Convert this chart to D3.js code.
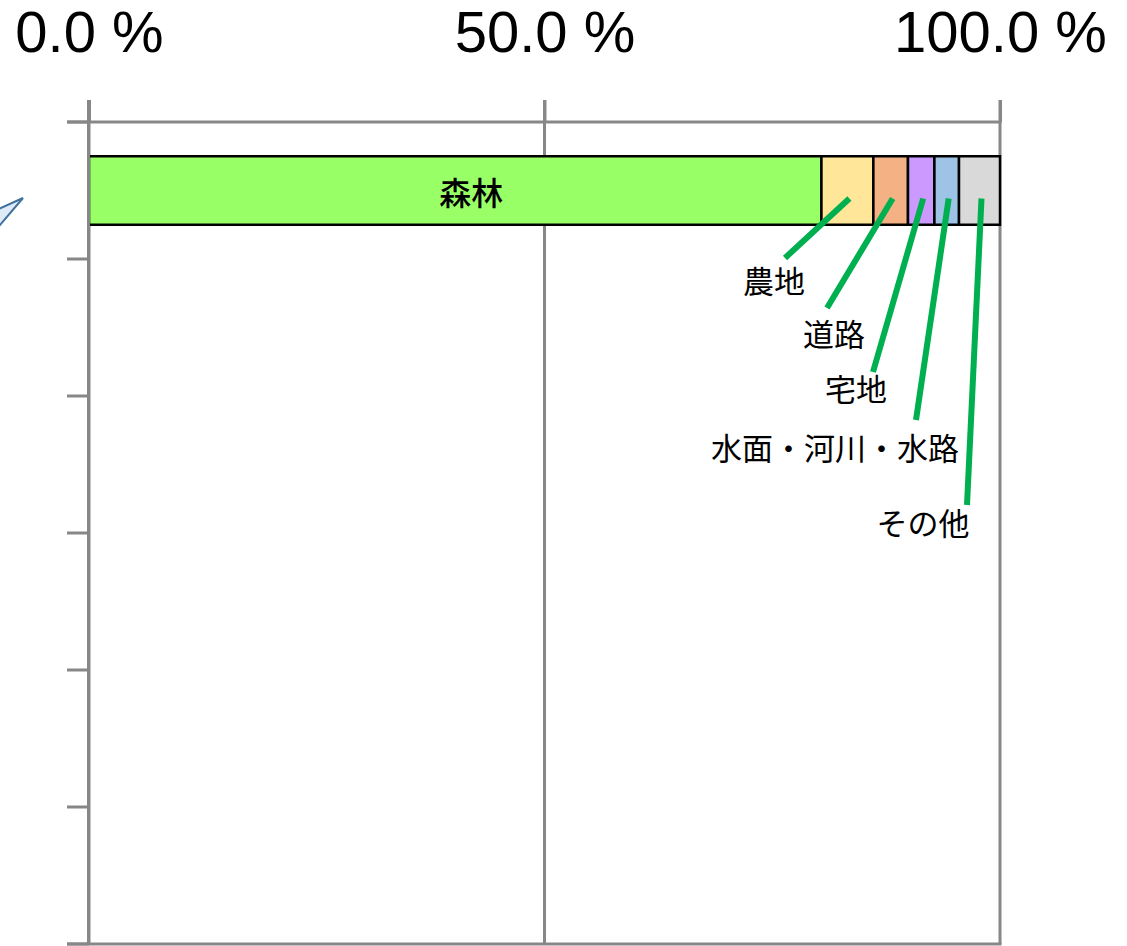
<!DOCTYPE html>
<html>
<head>
<meta charset="utf-8">
<script src="https://cdn.jsdelivr.net/npm/d3@7"></script>
<style>
  body { margin: 0; background: #fff; }
  svg { display: block; }
</style>
</head>
<body>
<div id="chart"></div>
<script>
// land use shares (percent)
const categories = ["森林", "農地", "道路", "宅地", "水面・河川・水路", "その他"];
const shares = [80.4, 5.7, 3.8, 2.9, 2.7, 4.5];
const colors = ["#99FF66", "#FFE699", "#F4B183", "#CC99FF", "#9DC3E6", "#D9D9D9"];
const xTicks = [0, 50, 100];
const rows = ["r1", "r2", "r3", "r4", "r5", "r6"];

// label placement for the small segments (layout only)
const labelSpots = [null,
  {lx: 774, ly: 279, ex: 785, ey: 258},
  {lx: 834, ly: 332, ex: 827, ey: 308},
  {lx: 856, ly: 387, ex: 873, ey: 372},
  {lx: 835, ly: 446, ex: 916, ey: 420},
  {lx: 923, ly: 521, ex: 967, ey: 505}];

const W = 1127, H = 946;
const plotLeft = 89, plotRight = 1000, plotTop = 122, plotBottom = 944;
const gray = "#878787";

const svg = d3.select("#chart").append("svg")
    .attr("width", W)
    .attr("height", H);

let x = d3.scaleLinear().domain([0, 100]).range([plotLeft, plotRight]);
let y = d3.scaleBand().domain(rows).range([plotTop, plotBottom]).padding(0);

// stacked data
let acc = 0;
const segs = categories.map(function(c, i) {
    let s = {name: c, x0: acc, x1: acc + shares[i], color: colors[i]};
    acc += shares[i];
    return s;
});

// callout tail sticking in from the left edge
svg.append("path")
    .attr("d", "M-6,232 L23,198 L-6,211 Z")
    .attr("fill", "#DEEBF7")
    .attr("stroke", "#41719C")
    .attr("stroke-width", 2);

// vertical grid lines
svg.append("g").selectAll("line")
    .data(xTicks)
    .enter().append("line")
    .attr("x1", d => x(d)).attr("x2", d => x(d))
    .attr("y1", 100).attr("y2", plotBottom)
    .attr("stroke", gray)
    .attr("stroke-width", 3);

// top axis with labels
let xAxis = svg.append("g")
    .attr("transform", `translate(0, ${plotTop})`)
    .call(d3.axisTop(x).tickValues(xTicks).tickSize(22).tickPadding(48)
        .tickFormat(d => d3.format(".1f")(d) + " %"));
xAxis.select(".domain").remove();
xAxis.selectAll(".tick line").attr("stroke", gray).attr("stroke-width", 3);
xAxis.selectAll("text")
    .attr("fill", "#000")
    .style("font-family", "'Liberation Sans', Arial, sans-serif")
    .style("font-size", "58px");

// top and bottom frame lines
[plotTop, plotBottom].forEach(function(yy) {
    svg.append("line")
        .attr("x1", 67).attr("x2", plotRight + 1.5)
        .attr("y1", yy).attr("y2", yy)
        .attr("stroke", gray).attr("stroke-width", 3);
});

// left category ticks at band edges
let edges = rows.map(r => y(r)).concat([plotBottom]);
svg.append("g").selectAll("line")
    .data(edges)
    .enter().append("line")
    .attr("x1", 67).attr("x2", plotLeft)
    .attr("y1", d => d).attr("y2", d => d)
    .attr("stroke", gray)
    .attr("stroke-width", 3);

// the bar
let bh = y.bandwidth() * 0.5;
let by = y(rows[0]) + y.bandwidth() * 0.25;
svg.append("g").selectAll("rect")
    .data(segs)
    .enter().append("rect")
    .attr("x", d => x(d.x0))
    .attr("y", by)
    .attr("width", d => x(d.x1) - x(d.x0))
    .attr("height", bh)
    .attr("fill", d => d.color)
    .attr("stroke", "#000")
    .attr("stroke-width", 2.5);

// left axis line on top
svg.append("line")
    .attr("x1", plotLeft - 0.5).attr("x2", plotLeft - 0.5)
    .attr("y1", 100).attr("y2", plotBottom)
    .attr("stroke", gray).attr("stroke-width", 3);

// label inside the big segment
svg.append("text")
    .attr("x", (x(segs[0].x0) + x(segs[0].x1)) / 2 + 16)
    .attr("y", by + bh / 2)
    .attr("text-anchor", "middle")
    .attr("dominant-baseline", "central")
    .style("font-family", "'Noto Sans CJK JP', sans-serif")
    .style("font-size", "32px")
    .style("font-weight", "500")
    .text(segs[0].name);

// leader lines and labels for the narrow segments
let small = segs.slice(1).map((d, i) => Object.assign({}, d, labelSpots[i + 1]));
svg.append("g").selectAll("line")
    .data(small)
    .enter().append("line")
    .attr("x1", d => (x(d.x0) + x(d.x1)) / 2 + 2)
    .attr("y1", by + bh / 2 + 8)
    .attr("x2", d => d.ex)
    .attr("y2", d => d.ey)
    .attr("stroke", "#00B050")
    .attr("stroke-width", 6);

svg.append("g").selectAll("text")
    .data(small)
    .enter().append("text")
    .attr("x", d => d.lx)
    .attr("y", d => d.ly)
    .attr("text-anchor", "middle")
    .attr("dominant-baseline", "central")
    .style("font-family", "'Noto Sans CJK JP', sans-serif")
    .style("font-size", "31px")
    .text(d => d.name);
</script>
</body>
</html>
